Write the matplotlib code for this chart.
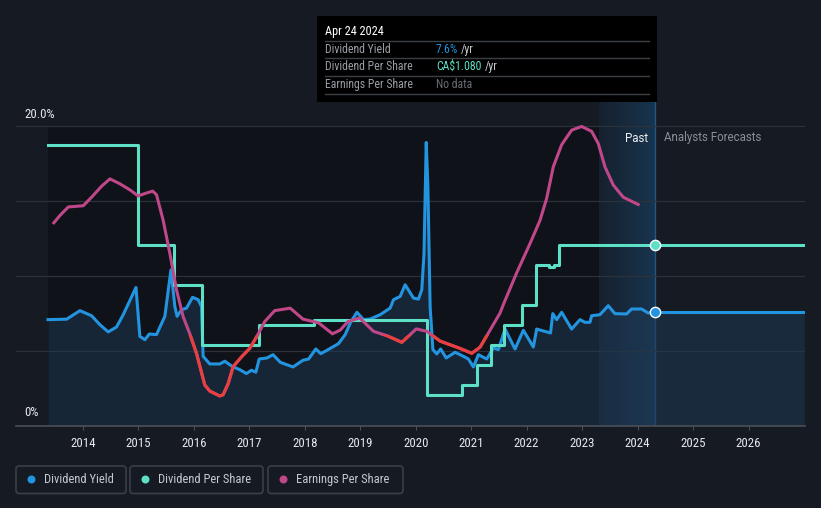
import matplotlib
matplotlib.use("Agg")
import matplotlib.pyplot as plt
import numpy as np
from matplotlib.patches import Rectangle, FancyBboxPatch, Circle
from matplotlib.lines import Line2D
from matplotlib.transforms import IdentityTransform
from matplotlib import font_manager

# ---------------- data ----------------
yield_dates = [2013.375, 2013.71, 2013.95, 2014.16, 2014.31, 2014.46, 2014.61, 2014.73, 2014.96, 2015.03,
               2015.12, 2015.20, 2015.33, 2015.48, 2015.59, 2015.66, 2015.70, 2015.78, 2015.87, 2015.98,
               2016.08, 2016.14, 2016.17, 2016.29, 2016.47, 2016.56, 2016.71, 2016.83, 2016.95, 2017.04,
               2017.12, 2017.18, 2017.32, 2017.43, 2017.56, 2017.79, 2017.97, 2018.07, 2018.20, 2018.29,
               2018.40, 2018.61, 2018.73, 2018.82, 2018.94, 2019.06, 2019.18, 2019.36, 2019.54, 2019.60,
               2019.72, 2019.81, 2019.96, 2020.05, 2020.11, 2020.15, 2020.19, 2020.22, 2020.26, 2020.31,
               2020.38, 2020.45, 2020.55, 2020.71, 2020.86, 2020.95, 2021.04, 2021.13, 2021.28, 2021.40,
               2021.49, 2021.61, 2021.79, 2021.94, 2022.12, 2022.18, 2022.43, 2022.47, 2022.54, 2022.63,
               2022.81, 2022.96, 2023.05, 2023.14, 2023.17, 2023.32, 2023.47, 2023.59, 2023.80, 2023.89,
               2024.07, 2024.19, 2024.31]
yield_values = [7.07, 7.10, 7.67, 7.33, 6.73, 6.25, 6.58, 7.40, 9.22, 5.95,
                5.73, 6.11, 6.07, 7.29, 10.4, 7.95, 7.29, 7.73, 7.84, 8.56,
                8.40, 7.95, 4.62, 4.11, 4.11, 4.29, 3.91, 3.73, 3.47, 3.69,
                3.56, 4.44, 4.51, 4.73, 4.22, 3.91, 4.36, 4.44, 5.11, 4.80,
                5.02, 5.47, 6.07, 6.84, 7.56, 7.07, 7.11, 7.40, 7.84, 8.40,
                8.62, 9.40, 8.51, 8.44, 9.07, 11.5, 18.9, 15.95, 7.95, 5.07,
                4.78, 5.11, 4.51, 4.89, 4.62, 4.44, 3.91, 4.73, 4.44, 5.18,
                5.07, 6.44, 5.11, 6.36, 5.24, 6.44, 6.18, 7.47, 7.07, 7.56,
                6.44, 7.07, 6.89, 6.89, 7.33, 7.40, 8.00, 7.47, 7.45, 7.78,
                7.78, 7.51, 7.60]
forecast_dates = [2024.31, 2027.0]
forecast_yield = [7.6, 7.6]
forecast_dps = [1.08, 1.08]

dps_dates = [2013.375, 2015.00, 2015.65, 2016.15, 2017.17, 2018.17, 2020.21, 2020.84, 2021.11, 2021.36,
             2021.59, 2021.92, 2022.17, 2022.40, 2022.50, 2022.59, 2024.31]
dps_values = [1.68, 1.08, 0.84, 0.48, 0.60, 0.63, 0.18, 0.24, 0.36, 0.48,
              0.60, 0.72, 0.96, 0.95, 0.96, 1.08, 1.08]

eps_dates = [2013.48, 2013.59, 2013.74, 2014.01, 2014.16, 2014.34, 2014.49, 2014.67, 2014.85, 2015.00,
             2015.12, 2015.26, 2015.33, 2015.45, 2015.57, 2015.69, 2015.81, 2015.93, 2016.05, 2016.20,
             2016.29, 2016.47, 2016.53, 2016.62, 2016.71, 2016.86, 2017.01, 2017.14, 2017.28, 2017.46,
             2017.74, 2017.97, 2018.25, 2018.50, 2018.64, 2018.78, 2018.99, 2019.24, 2019.48, 2019.75,
             2020.01, 2020.20, 2020.44, 2020.62, 2020.80, 2021.01, 2021.16, 2021.34, 2021.52, 2021.58,
             2021.82, 2022.06, 2022.24, 2022.36, 2022.48, 2022.63, 2022.81, 2022.99, 2023.17, 2023.29,
             2023.41, 2023.56, 2023.74, 2024.01]
eps_values = [0.92, 0.98, 1.05, 1.06, 1.13, 1.22, 1.28, 1.24, 1.19, 1.14,
              1.16, 1.18, 1.15, 0.94, 0.67, 0.37, 0.15, 0.01, -0.15, -0.41,
              -0.46, -0.50, -0.49, -0.40, -0.26, -0.18, -0.11, -0.01, 0.11, 0.20,
              0.22, 0.13, 0.10, 0.01, 0.04, 0.11, 0.14, 0.03, -0.005, -0.06,
              0.05, 0.03, -0.05, -0.08, -0.11, -0.15, -0.10, 0.04, 0.18, 0.25,
              0.51, 0.75, 0.94, 1.12, 1.38, 1.56, 1.68, 1.71, 1.67, 1.57,
              1.38, 1.23, 1.13, 1.07]

year_ticks = list(range(2014, 2027))
year_labels = [str(y) for y in year_ticks]
now_date = 2024.31
past_start = 2023.31

# ---------------- style ----------------
BG = "#151a23"
DARK = "#0f1218"
BLUE = "#2394df"
TEAL = "#5de0c6"
PINK = "#c0478a"
RED = "#e8403f"

available = {f.name for f in font_manager.fontManager.ttflist}
narrow_name = None
for cand in ["Liberation Sans Narrow", "DejaVu Sans Condensed", "Roboto Condensed", "Open Sans Condensed"]:
    if cand in available:
        narrow_name = cand
        break
if narrow_name is None:
    NARROW = ["Roboto", "DejaVu Sans"]
    nscale = 0.92
else:
    NARROW = [narrow_name, "DejaVu Sans"]
    nscale = 1.0 if narrow_name != "DejaVu Sans Condensed" else 0.9
NORMAL = ["Roboto", "DejaVu Sans"]

W, H = 821, 508
fig = plt.figure(figsize=(W / 100, H / 100), dpi=100, facecolor=BG)


def fx(x):
    return x / W


def fy(y):
    return 1 - y / H


ax_left, ax_right, ax_top, ax_bottom = 16, 805, 100, 425.5
rect = [fx(ax_left), fy(ax_bottom), fx(ax_right) - fx(ax_left), fy(ax_top) - fy(ax_bottom)]
ax = fig.add_axes(rect)
ax.set_facecolor(BG)
xmin, xmax = 2012.798, 2027.015
ax.set_xlim(xmin, xmax)
ylim_top = 20 * (ax_bottom - ax_top) / (ax_bottom - 126)
ax.set_ylim(0, ylim_top)
for s in ax.spines.values():
    s.set_visible(False)
ax.set_yticks([])
ax.set_xticks(year_ticks)
ax.set_xticklabels(year_labels, family=NARROW, fontsize=9.3 * nscale, color="#e6e8eb")
ax.tick_params(axis="x", length=3, width=0.8, color="#4b5059", pad=5)

# past darker region (below the top gridline)
ax.axvspan(yield_dates[0], past_start, ymax=20 / ylim_top, color=DARK, zorder=0.5, lw=0)
# gradient band
grad = np.zeros((2, 256, 4))
grad[..., 0] = 0.11
grad[..., 1] = 0.33
grad[..., 2] = 0.52
grad[..., 3] = np.linspace(0.12, 0.45, 256)[None, :]
ax.imshow(grad, extent=(past_start, now_date, 0, ylim_top), aspect="auto", zorder=0.8,
          interpolation="bilinear")
ax.axvline(now_date, color="#1f5a85", lw=1, zorder=1)

# gridlines
for g in [5, 10, 15, 20]:
    ax.axhline(g, color="#2c313a", lw=0.9, zorder=1)
ax.axhline(0, color="#4b5059", lw=1.2, zorder=6, clip_on=False)

# yield fill + line
all_dates = yield_dates + forecast_dates[1:]
all_yield = yield_values + forecast_yield[1:]
ax.fill_between(all_dates, 0, all_yield, color="#1f3a55", alpha=0.52, lw=0, zorder=2)
ax.plot(yield_dates, yield_values, color=BLUE, lw=2.2, zorder=3, solid_joinstyle="round")
ax.plot(forecast_dates, forecast_yield, color=BLUE, lw=2.2, zorder=3)

# DPS axis
ax2 = ax.twinx()
ax2.set_xlim(xmin, xmax)
ax2.set_ylim(0, 1.08 * (ax_bottom - ax_top) / (ax_bottom - 245))
ax2.axis("off")
ax2.plot(dps_dates, dps_values, drawstyle="steps-post", color=TEAL, lw=2.2, zorder=3)
ax2.plot(forecast_dates, forecast_dps, color=TEAL, lw=2.2, zorder=3)

# EPS axis
ax3 = ax.twinx()
ax3.set_xlim(xmin, xmax)
eps_per_px = 0.0082
ax3.set_ylim(-(ax_bottom - 335) * eps_per_px, (335 - ax_top) * eps_per_px)
ax3.axis("off")
ax3.plot(eps_dates, eps_values, color=PINK, lw=2.2, zorder=3, solid_joinstyle="round")
red_line, = ax3.plot(eps_dates, eps_values, color=RED, lw=2.2, zorder=4, solid_joinstyle="round")
clip = Rectangle((2010, -10), 20, 10, transform=ax3.transData)
red_line.set_clip_path(clip)

# now-markers
ax2.scatter([now_date], [forecast_dps[0]], s=55, color=TEAL, edgecolor="white", linewidth=1.0, zorder=10,
            clip_on=False)
ax4 = ax.twinx()
ax4.set_xlim(xmin, xmax)
ax4.set_ylim(0, ylim_top)
ax4.axis("off")
ax4.scatter([now_date], [forecast_yield[0]], s=55, color=BLUE, edgecolor="white", linewidth=1.0, zorder=10,
            clip_on=False)

# y labels
fig.text(fx(24), fy(114), "20.0%", family=NARROW, fontsize=9.3 * nscale, color="#e6e8eb", va="center", ha="left")
fig.text(fx(24), fy(413), "0%", family=NARROW, fontsize=9.3 * nscale, color="#e6e8eb", va="center", ha="left")

# Past / Analysts Forecasts
fig.text(fx(648), fy(138), "Past", family=NORMAL, fontsize=8.3, color="#f0f0f0", va="center", ha="right")
fig.text(fx(664), fy(138), "Analysts Forecasts", family=NORMAL, fontsize=8.3, color="#8a8f98",
         va="center", ha="left")

# tooltip
tip = Rectangle((fx(317), fy(101.5)), fx(657) - fx(317), fy(16.5) - fy(101.5), transform=fig.transFigure,
                facecolor="#000000", edgecolor="none", zorder=20)
fig.add_artist(tip)
for ly in [41.3, 58.3, 76.3, 93.7]:
    fig.add_artist(Line2D([fx(325), fx(649)], [fy(ly), fy(ly)], transform=fig.transFigure,
                          color="#3c3f44", lw=1.0, zorder=21))
fig.text(fx(325), fy(31.5), "Apr 24 2024", family=NARROW, fontsize=8.8 * nscale, color="#ffffff",
         va="center", ha="left", zorder=22)
rows = [("Dividend Yield", "7.6%", BLUE, "/yr"),
        ("Dividend Per Share", r"CA\$1.080", TEAL, "/yr"),
        ("Earnings Per Share", "No data", "#6a6e75", "")]
row_y = [49.5, 66.5, 84.5]
tip_fs = 8.5 * nscale
for i, (lab, val, col, suf) in enumerate(rows):
    fig.text(fx(325), fy(row_y[i]), lab, family=NARROW, fontsize=tip_fs, color="#9a9ea6",
             va="center", ha="left", zorder=22)
    t = fig.text(fx(436), fy(row_y[i]), val, family=NARROW, fontsize=tip_fs, color=col,
                 va="center", ha="left", zorder=22)
    if suf:
        # place the suffix right after the value text
        fig.canvas.draw()
        bb = t.get_window_extent()
        fig.text((bb.x1 + 3) / W, fy(row_y[i]), suf, family=NARROW, fontsize=tip_fs, color="#c8cacd",
                 va="center", ha="left", zorder=22)

# legend
legend_items = [("Dividend Yield", BLUE, 16, 126), ("Dividend Per Share", TEAL, 130, 263),
                ("Earnings Per Share", PINK, 268, 403)]
for name, col, x0, x1 in legend_items:
    box = FancyBboxPatch((x0, H - 493.5), x1 - x0, 27.5, boxstyle="round,pad=0,rounding_size=3",
                         transform=IdentityTransform(), facecolor="none", edgecolor="#3a3f48", lw=1.2,
                         zorder=20)
    fig.add_artist(box)
    fig.add_artist(Circle((x0 + 15.5, H - 479.5), 4.0, transform=IdentityTransform(), facecolor=col,
                          edgecolor="none", zorder=21))
    fig.text(fx(x0 + 28), fy(479.5), name, family=NARROW, fontsize=9.0 * nscale, color="#c5c9cf",
             va="center", ha="left", zorder=22)

fig.savefig("out.png", dpi=100, facecolor=fig.get_facecolor())
